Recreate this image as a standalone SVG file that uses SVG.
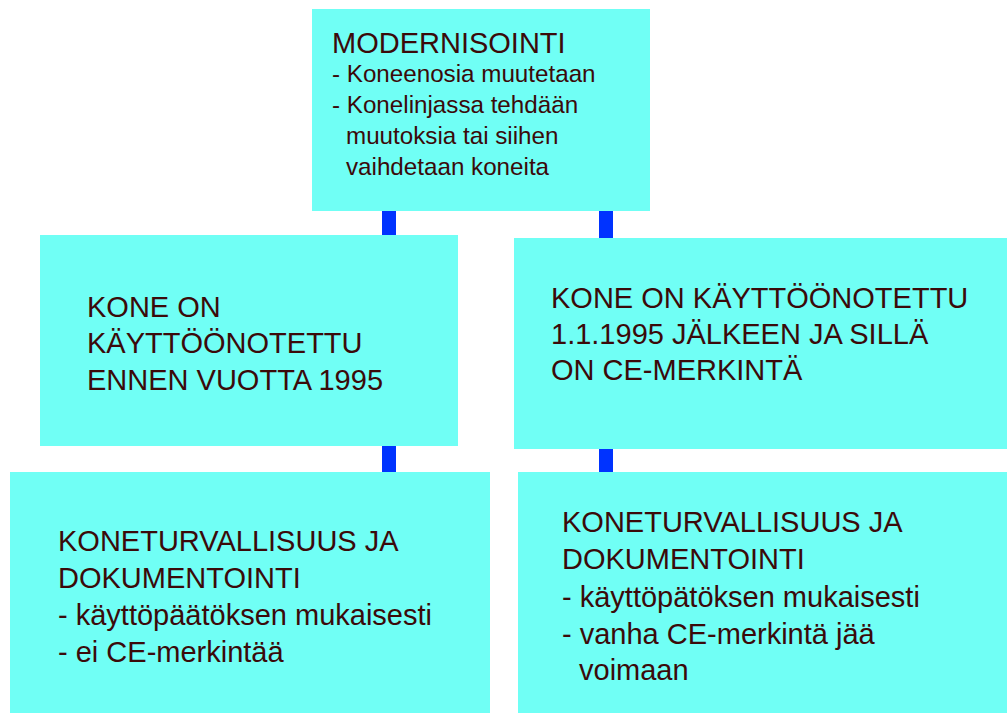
<svg xmlns="http://www.w3.org/2000/svg" width="1007" height="713" viewBox="0 0 1007 713">
<style>
.box{fill:#70fff5}
.con{fill:#0033ff}
text{font-family:"Liberation Sans",Arial,sans-serif;fill:#3b0a0a}
.h{font-size:29px}
.s{font-size:24.2px}
.m{font-size:29px}
</style>
<rect width="1007" height="713" fill="#ffffff"/>
<g id="connectors">
<rect class="con" x="382" y="210" width="14" height="26"/>
<rect class="con" x="599" y="210" width="14" height="29"/>
<rect class="con" x="382" y="445" width="14" height="28"/>
<rect class="con" x="599" y="448" width="14" height="25"/>
</g>
<g id="modernisointi">
<rect class="box" x="312" y="9" width="338" height="202"/>
<text class="h" x="332" y="53">MODERNISOINTI</text>
<text class="s" x="332" y="82">- Koneenosia muutetaan</text>
<text class="s" x="332" y="113">- Konelinjassa tehdään</text>
<text class="s" x="346" y="144">muutoksia tai siihen</text>
<text class="s" x="346" y="175">vaihdetaan koneita</text>
</g>
<g id="ennen1995">
<rect class="box" x="40" y="235" width="418" height="211"/>
<text class="m" x="87" y="317">KONE ON</text>
<text class="m" x="87" y="353">KÄYTTÖÖNOTETTU</text>
<text class="m" x="87" y="390">ENNEN VUOTTA 1995</text>
</g>
<g id="jalkeen1995">
<rect class="box" x="514" y="238" width="493" height="211"/>
<text class="m" x="551" y="308">KONE ON KÄYTTÖÖNOTETTU</text>
<text class="m" x="551" y="344">1.1.1995 JÄLKEEN JA SILLÄ</text>
<text class="m" x="551" y="380">ON CE-MERKINTÄ</text>
</g>
<g id="dokumentointi-vasen">
<rect class="box" x="10" y="472" width="480" height="241"/>
<text class="m" x="58" y="551">KONETURVALLISUUS JA</text>
<text class="m" x="58" y="588">DOKUMENTOINTI</text>
<text class="m" x="58" y="625">- käyttöpäätöksen mukaisesti</text>
<text class="m" x="58" y="662">- ei CE-merkintää</text>
</g>
<g id="dokumentointi-oikea">
<rect class="box" x="518" y="472" width="489" height="241"/>
<text class="m" x="562" y="532">KONETURVALLISUUS JA</text>
<text class="m" x="562" y="569">DOKUMENTOINTI</text>
<text class="m" x="562" y="607">- käyttöpätöksen mukaisesti</text>
<text class="m" x="562" y="644">- vanha CE-merkintä jää</text>
<text class="m" x="579" y="680">voimaan</text>
</g>
</svg>
